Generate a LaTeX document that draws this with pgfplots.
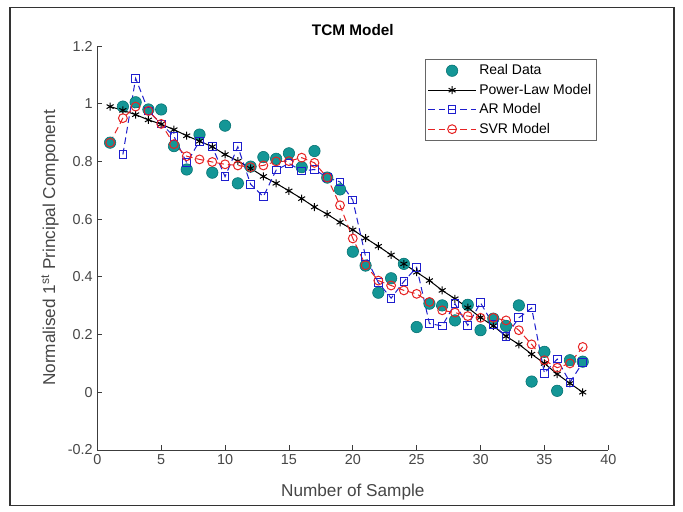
\documentclass[border=0pt]{standalone}
\usepackage{pgfplots}
\pgfplotsset{compat=1.18}
\usepackage{fontspec}
\setmainfont{Liberation Sans}
\definecolor{tealfill}{RGB}{20,150,150}
\definecolor{tealedge}{RGB}{0,110,110}
\definecolor{arblue}{RGB}{30,30,205}
\definecolor{svrred}{RGB}{230,35,35}
\definecolor{axgray}{RGB}{60,60,60}
\definecolor{txgray}{RGB}{70,70,70}
\newcommand{\legfont}{\fontsize{10.5}{12}\selectfont}
\begin{document}
\begin{tikzpicture}
\path[use as bounding box] (-73pt,-46.5pt) rectangle (439.3pt,337.5pt);
\draw[black!80, line width=1.1pt] (-65.5pt,-41.6pt) rectangle (432.5pt,331.9pt);
\begin{axis}[
  scale only axis, width=383.25pt, height=303pt,
  xmin=0, xmax=40, ymin=-0.2, ymax=1.2,
  xtick={0,5,10,15,20,25,30,35,40},
  ytick={-0.2,0,0.2,0.4,0.6,0.8,1,1.2},
  yticklabels={-0.2,0,0.2,0.4,0.6,0.8,1,1.2},
  axis x line*=bottom, axis y line*=left,
  axis line style={-, axgray, line width=0.6pt},
  tick align=inside, major tick length=3.75pt,
  tick style={axgray, line width=0.6pt},
  /pgf/number format/assume math mode=true,
  tick label style={font=\fontsize{10.8}{12}\selectfont, text=txgray},
  xlabel={Number of Sample},
  ylabel={Normalised 1\textsuperscript{st} Principal Component},
  label style={font=\fontsize{12.9}{14}\selectfont, text=txgray},
  xlabel style={at={(axis description cs:0.5,-0.104)}, anchor=center},
  ylabel style={at={(axis description cs:-0.0926,0.5)}, anchor=center},
  title={TCM Model},
  title style={at={(axis description cs:0.5,1.020)}, anchor=center, font=\fontsize{11.5}{13}\selectfont\bfseries},
  legend style={at={(0.978,0.968)}, anchor=north east, draw=black!60, line width=0.6pt,
    font=\legfont, inner xsep=2pt, inner ysep=2pt, row sep=1.5pt,
    cells={anchor=west}},
  legend cell align=left,
  legend image code/.code={\draw[mark repeat=2,mark phase=2,#1] plot coordinates {(0pt,0pt)(18pt,0pt)(36pt,0pt)};},
]
% Real data
\addplot[only marks, mark=*, mark size=4.3pt, mark options={fill=tealfill, draw=tealedge, line width=0.4pt}] coordinates {
(1,0.865)(2,0.99)(3,1.005)(4,0.98)(5,0.98)(6,0.853)(7,0.772)(8,0.893)(9,0.761)(10,0.924)
(11,0.724)(12,0.782)(13,0.815)(14,0.809)(15,0.828)(16,0.78)(17,0.836)(18,0.744)(19,0.703)(20,0.487)
(21,0.439)(22,0.345)(23,0.395)(24,0.445)(25,0.226)(26,0.307)(27,0.301)(28,0.249)(29,0.303)(30,0.215)
(31,0.255)(32,0.230)(33,0.301)(34,0.037)(35,0.140)(36,0.005)(37,0.111)(38,0.106)};
\addlegendentry{\legfont Real Data}
% Power-law
\addplot[black, line width=0.75pt, mark=asterisk, mark size=3pt] coordinates {
(1,0.990)(2,0.977)(3,0.962)(4,0.944)(5,0.929)(6,0.910)(7,0.889)(8,0.870)(9,0.851)(10,0.824)
(11,0.801)(12,0.776)(13,0.748)(14,0.724)(15,0.698)(16,0.671)(17,0.642)(18,0.617)(19,0.589)(20,0.563)
(21,0.534)(22,0.506)(23,0.476)(24,0.445)(25,0.416)(26,0.387)(27,0.353)(28,0.324)(29,0.293)(30,0.259)
(31,0.230)(32,0.194)(33,0.166)(34,0.132)(35,0.100)(36,0.063)(37,0.031)(38,0.000)};
\addlegendentry{\legfont Power-Law Model}
% AR
\addplot[arblue, line width=0.75pt, dash pattern=on 5pt off 3pt, mark=square, mark size=2.9pt, mark options={solid}] coordinates {
(2,0.824)(3,1.088)(4,0.975)(5,0.930)(6,0.887)(7,0.795)(8,0.870)(9,0.851)(10,0.747)
(11,0.851)(12,0.721)(13,0.678)(14,0.770)(15,0.793)(16,0.767)(17,0.772)(18,0.744)(19,0.729)(20,0.666)
(21,0.470)(22,0.380)(23,0.326)(24,0.384)(25,0.433)(26,0.238)(27,0.230)(28,0.307)(29,0.232)(30,0.310)
(31,0.234)(32,0.194)(33,0.258)(34,0.292)(35,0.066)(36,0.115)(37,0.034)(38,0.103)};
\addlegendentry{\legfont AR Model}
% SVR
\addplot[svrred, line width=0.75pt, dash pattern=on 5pt off 3pt, mark=o, mark size=3.3pt, mark options={solid}] coordinates {
(1,0.865)(2,0.950)(3,0.990)(4,0.975)(5,0.930)(6,0.860)(7,0.818)(8,0.807)(9,0.798)(10,0.790)
(11,0.786)(12,0.780)(13,0.786)(14,0.800)(15,0.801)(16,0.813)(17,0.795)(18,0.744)(19,0.648)(20,0.533)
(21,0.440)(22,0.387)(23,0.370)(24,0.353)(25,0.341)(26,0.313)(27,0.284)(28,0.276)(29,0.264)(30,0.258)
(31,0.258)(32,0.249)(33,0.215)(34,0.166)(35,0.111)(36,0.085)(37,0.100)(38,0.157)};
\addlegendentry{\legfont SVR Model}
\end{axis}
\end{tikzpicture}
\end{document}
